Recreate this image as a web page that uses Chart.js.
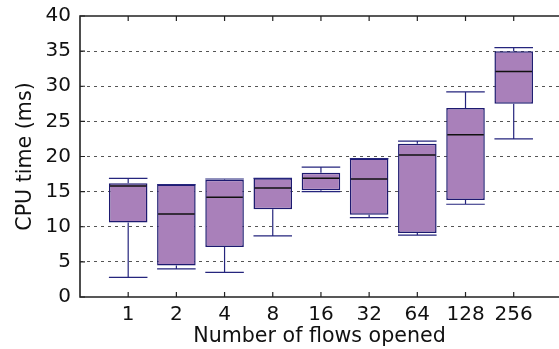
<!DOCTYPE html>
<html>
<head>
<meta charset="utf-8">
<script src="https://cdn.jsdelivr.net/npm/chart.js@4.4.1/dist/chart.umd.min.js"></script>
<style>
  html, body { margin: 0; padding: 0; background: #fff; overflow: hidden; }
  #wrap { width: 559px; height: 349px; }
</style>
</head>
<body>
<div id="wrap"><canvas id="myChart" width="559" height="349"></canvas></div>
<script>
// flows opened (categories)
const flows = ["1", "2", "4", "8", "16", "32", "64", "128", "256"];
// box plot stats, CPU time in ms
const whiskerLow  = [2.8, 4.0, 3.5, 8.7, 15.0, 11.3, 8.8, 13.2, 22.5];
const q1          = [10.6, 4.5, 7.1, 12.5, 15.2, 11.7, 9.1, 13.8, 27.5];
const median      = [15.8, 11.8, 14.2, 15.5, 16.9, 16.8, 20.2, 23.1, 32.1];
const q3          = [16.2, 16.0, 16.7, 16.9, 17.7, 19.7, 21.8, 26.9, 35.0];
const whiskerHigh = [16.9, 16.0, 16.8, 16.9, 18.5, 19.7, 22.2, 29.2, 35.5];
const yTicks = [0, 5, 10, 15, 20, 25, 30, 35, 40];

const FONT = "'DejaVu Sans', sans-serif";
const spineColor = "#222";

// whiskers, caps, medians + frame with inward ticks
const boxPlugin = {
  id: "boxExtras",
  afterDatasetsDraw(chart) {
    const ctx = chart.ctx;
    const x = chart.scales.x, y = chart.scales.y;
    const meta = chart.getDatasetMeta(0);
    ctx.save();
    meta.data.forEach((bar, i) => {
      const cx = x.getPixelForValue(i + 1);
      const half = bar.width / 2;
      const yLo = y.getPixelForValue(whiskerLow[i]);
      const yHi = y.getPixelForValue(whiskerHigh[i]);
      const yQ1 = y.getPixelForValue(q1[i]);
      const yQ3 = y.getPixelForValue(q3[i]);
      const yMed = y.getPixelForValue(median[i]);
      ctx.strokeStyle = "#25257d";
      ctx.lineWidth = 1.2;
      ctx.beginPath();
      ctx.moveTo(cx, yQ1); ctx.lineTo(cx, yLo);
      ctx.moveTo(cx, yQ3); ctx.lineTo(cx, yHi);
      ctx.moveTo(cx - half, yLo); ctx.lineTo(cx + half, yLo);
      ctx.moveTo(cx - half, yHi); ctx.lineTo(cx + half, yHi);
      ctx.stroke();
      ctx.strokeStyle = "#111";
      ctx.lineWidth = 1.5;
      ctx.beginPath();
      ctx.moveTo(cx - half + 1, yMed); ctx.lineTo(cx + half - 1, yMed);
      ctx.stroke();
    });
    const a = chart.chartArea;
    ctx.strokeStyle = spineColor;
    ctx.lineWidth = 1.2;
    ctx.beginPath();
    flows.forEach((f, i) => {
      const px = x.getPixelForValue(i + 1);
      ctx.moveTo(px, a.top); ctx.lineTo(px, a.top + 5);
      ctx.moveTo(px, a.bottom); ctx.lineTo(px, a.bottom - 5);
    });
    yTicks.forEach(v => {
      const py = y.getPixelForValue(v);
      ctx.moveTo(a.left, py); ctx.lineTo(a.left + 5, py);
    });
    ctx.stroke();
    ctx.lineWidth = 1.6;
    ctx.beginPath();
    ctx.moveTo(a.right + 2, a.top); ctx.lineTo(a.left, a.top);
    ctx.lineTo(a.left, a.bottom); ctx.lineTo(a.right + 2, a.bottom);
    ctx.stroke();
    ctx.restore();
  }
};

const ctx = document.getElementById("myChart").getContext("2d");
const myChart = new Chart(ctx, {
  type: "bar",
  data: {
    datasets: [{
      data: flows.map((f, i) => ({ x: i + 1, y: [q1[i], q3[i]] })),
      backgroundColor: "#a980ba",
      borderColor: "#1d1a70",
      borderWidth: 1.5,
      borderSkipped: false,
      barPercentage: 0.8,
      categoryPercentage: 1
    }]
  },
  options: {
    responsive: false,
    animation: false,
    layout: { padding: { top: 16, right: 0, bottom: 0, left: 0 } },
    plugins: { legend: { display: false }, tooltip: { enabled: false } },
    scales: {
      x: {
        type: "linear",
        offset: false,
        min: 0,
        max: 9.94,
        afterBuildTicks: (s) => { s.ticks = flows.map((f, i) => ({ value: i + 1 })); },
        afterFit: (s) => { s.height = 52; },
        ticks: {
          autoSkip: false,
          maxRotation: 0,
          padding: 6,
          color: "#111",
          font: { family: FONT, size: 20 },
          callback: (v, i) => flows[i]
        },
        grid: { display: false, drawTicks: false },
        border: { display: false },
        title: {
          display: true,
          text: "Number of flows opened",
          color: "#111",
          font: { family: FONT, size: 20.6 },
          padding: { top: 0, bottom: 0 }
        }
      },
      y: {
        min: 0,
        max: 40,
        afterBuildTicks: (s) => { s.ticks = yTicks.map(v => ({ value: v })); },
        afterFit: (s) => { s.width = 80; s.paddingTop = 0; s.paddingBottom = 0; },
        ticks: {
          padding: 9,
          color: "#111",
          font: { family: FONT, size: 20 }
        },
        grid: {
          drawTicks: false,
          color: (c) => (c.tick && (c.tick.value === 0 || c.tick.value === 40)) ? "rgba(0,0,0,0)" : "#555",
          lineWidth: 1
        },
        border: { display: false, dash: [3, 4] },
        title: {
          display: true,
          text: "CPU time (ms)",
          color: "#111",
          font: { family: FONT, size: 20.6 },
          padding: { top: 13, bottom: 0 }
        }
      }
    }
  },
  plugins: [boxPlugin]
});
</script>
</body>
</html>
